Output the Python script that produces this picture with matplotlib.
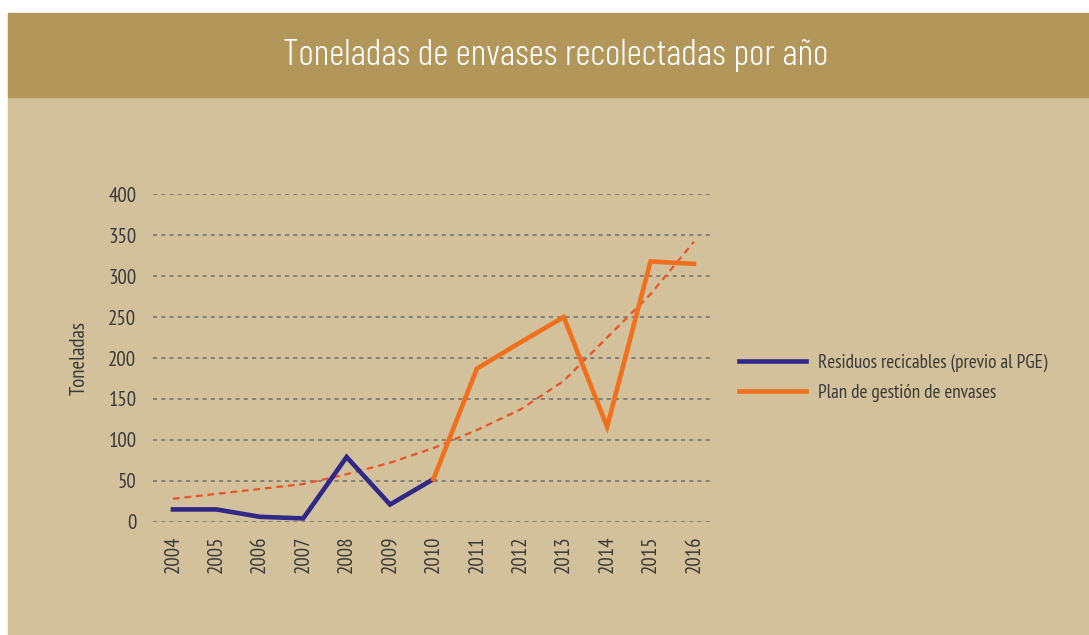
import matplotlib
matplotlib.use("Agg")
import matplotlib.pyplot as plt
from matplotlib.patches import Rectangle

# data
years = ["2004", "2005", "2006", "2007", "2008", "2009", "2010",
         "2011", "2012", "2013", "2014", "2015", "2016"]
residuos = [15, 15, 6, 4, 79, 21, 52]                       # 2004-2010
plan = [52, 187, 219, 250, 116, 318, 315]                   # 2010-2016
tendencia = [28, 34, 40, 46, 58, 72, 90, 112, 137, 172, 225, 278, 342]
y_ticks = [0, 50, 100, 150, 200, 250, 300, 350, 400]

BAND = "#b39659"
BG = "#d2c19a"
BLUE = "#2f2887"
ORANGE = "#f0701e"
TREND = "#e9552a"
TEXT = "#3a3a3a"

plt.rcParams["font.family"] = ["PT Sans Narrow", "DejaVu Sans"]

fig = plt.figure(figsize=(10.89, 6.35), dpi=100)
W, H = 1089, 635

# background panels (white margin left/top, title band, tan body)
fig.patches.append(Rectangle((8 / W, 0), 1 - 8 / W, (H - 97) / H,
                             transform=fig.transFigure, color=BG, zorder=-10))
fig.patches.append(Rectangle((8 / W, (H - 97) / H), 1 - 8 / W, 84 / H,
                             transform=fig.transFigure, color=BAND, zorder=-10))
fig.text(556 / W, 1 - 56 / H, "Toneladas de envases recolectadas por año",
         color="white", fontsize=27, fontweight=300,
         family=["Barlow Condensed", "DejaVu Sans"], ha="center", va="center")

ax = fig.add_axes([153 / W, 1 - 521.7 / H, (710 - 153) / W, (521.7 - 194.3) / H])
ax.set_facecolor("none")
for s in ax.spines.values():
    s.set_visible(False)

x = list(range(len(years)))
ax.set_xlim(-0.46, 12.37)
ax.set_ylim(0, 400)

for v in y_ticks:
    ax.axhline(v, color="#707070", lw=1.1, ls=(0, (2.7, 2.7)), zorder=1)

ax.plot(x, tendencia, color=TREND, lw=1.6, ls=(0, (3, 2.2)), zorder=2)
l1, = ax.plot(x[:7], residuos, color=BLUE, lw=3.3, zorder=3,
              solid_joinstyle="miter", clip_on=False,
              label="Residuos recicables (previo al PGE)")
l2, = ax.plot(x[6:], plan, color=ORANGE, lw=3.3, zorder=3,
              solid_joinstyle="miter", clip_on=False,
              label="Plan de gestión de envases")

ax.set_yticks(y_ticks)
ax.set_yticklabels([str(v) for v in y_ticks])
ax.set_xticks(x)
ax.set_xticklabels(years, rotation=90)
ax.tick_params(axis="both", length=0, labelsize=15, colors=TEXT)
ax.tick_params(axis="y", pad=12)
ax.tick_params(axis="x", pad=10)
ax.set_ylabel("Toneladas", fontsize=15, color=TEXT, labelpad=14)

leg = fig.legend(handles=[l1, l2], loc="center left",
                 bbox_to_anchor=(722 / W, 1 - 378 / H), frameon=False,
                 fontsize=13.8, handlelength=3.5, handletextpad=0.6,
                 labelspacing=0.6, labelcolor=TEXT)

fig.savefig("out.png", dpi=100, facecolor="white")
